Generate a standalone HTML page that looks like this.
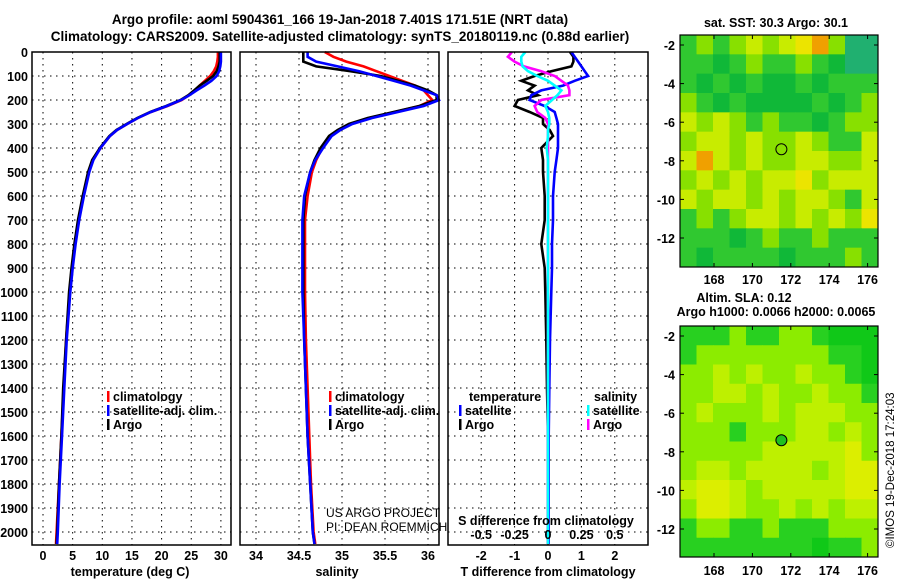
<!DOCTYPE html>
<html><head><meta charset="utf-8"><style>
body{margin:0;background:#fff}
svg{display:block;font-family:"Liberation Sans",sans-serif;font-weight:bold}
</style></head><body>
<svg id="c" width="900" height="580" viewBox="0 0 900 580" xmlns="http://www.w3.org/2000/svg">
<text x="340" y="24" font-size="13.5" text-anchor="middle">Argo profile: aoml 5904361_166 19-Jan-2018 7.401S 171.51E (NRT data)</text>
<text x="340" y="41" font-size="13.5" text-anchor="middle">Climatology: CARS2009. Satellite-adjusted climatology: synTS_20180119.nc (0.88d earlier)</text>
<g id="g"></g>
</svg>
<script>
const depths=[0,20,40,60,80,100,120,140,160,180,200,225,250,275,300,325,350,400,450,500,600,700,800,900,1000,1200,1400,1600,1800,2000,2050];
const tempArgo=[29.8,29.8,29.8,29.6,29.3,28.7,27.6,26.4,25.5,24.5,23.2,20.8,18.1,15.9,14.1,12.4,11.2,9.6,8.3,7.6,6.7,5.9,5.3,4.8,4.4,3.9,3.4,3.1,2.7,2.4,2.3];
const tempClim=[29.5,29.5,29.4,29.2,28.8,28.2,27.3,26.4,25.6,24.6,23.4,21.0,18.2,16.0,14.2,12.5,11.3,9.7,8.4,7.7,6.8,6.0,5.4,4.9,4.5,3.9,3.5,3.1,2.7,2.3,2.2];
const tempSat=[30.0,30.0,30.0,29.9,29.7,29.3,28.4,27.2,25.9,24.7,23.3,20.9,18.2,16.0,14.2,12.5,11.3,9.7,8.5,7.8,6.9,6.1,5.5,5.0,4.6,4.0,3.6,3.2,2.8,2.5,2.4];
const salArgo=[34.55,34.55,34.55,34.7,35.1,35.45,35.65,35.85,36.0,36.1,36.1,35.9,35.6,35.3,35.08,34.95,34.85,34.75,34.68,34.63,34.57,34.55,34.55,34.55,34.55,34.56,34.58,34.6,34.63,34.66,34.68];
const salClim=[34.8,34.9,35.05,35.25,35.4,35.55,35.7,35.85,35.95,36.0,36.05,35.9,35.62,35.32,35.1,34.97,34.87,34.77,34.7,34.65,34.6,34.57,34.57,34.57,34.57,34.58,34.6,34.62,34.64,34.67,34.69];
const salSat=[34.6,34.6,34.7,34.95,35.2,35.4,35.6,35.8,35.95,36.1,36.15,35.95,35.65,35.35,35.12,34.98,34.88,34.78,34.69,34.63,34.56,34.54,34.54,34.54,34.54,34.56,34.58,34.6,34.63,34.66,34.68];
const tDiffArgo=[0.66,0.76,0.76,0.7,0.1,-0.4,-0.8,-0.4,-0.6,-0.3,-0.9,-1.0,-0.55,-0.15,-0.15,0.05,0.15,-0.2,-0.15,-0.15,-0.1,-0.1,-0.2,-0.1,-0.08,-0.05,-0.03,0,0,0,0];
const tDiffSat=[0.7,0.8,0.9,1.0,1.1,1.2,0.8,0.45,-0.2,-0.5,-0.55,-0.1,0.2,0.25,0.3,0.3,0.3,0.3,0.25,0.2,0.15,0.15,0.12,0.12,0.1,0.06,0.04,0.02,0.02,0.02,0.02];
const sDiffArgo=[-0.27,-0.3,-0.25,-0.18,-0.05,0.05,0.1,0.15,0.16,0.16,-0.05,-0.1,-0.08,-0.02,0,0,0,0,0,0,0,0,0,0,0,0,0,0,0,0,0];
const sDiffSat=[-0.17,-0.2,-0.2,-0.19,-0.15,-0.08,0.0,0.05,0.1,0.07,0.03,-0.02,0.0,0.01,0.01,0,0,-0.01,0,0,0,0,0,0,0,0,0,0,0,0,0];
const depthTicks=[0,100,200,300,400,500,600,700,800,900,1000,1100,1200,1300,1400,1500,1600,1700,1800,1900,2000];
const tempTicks=[0,5,10,15,20,25,30];
const salTicks=[34,34.5,35,35.5,36];
const tDiffTicks=[-2,-1,0,1,2];
const sDiffTicks=["-0.5","-0.25","0","0.25","0.5"];
const lonTicks=[168,170,172,174,176];
const latTicks=[-2,-4,-6,-8,-10,-12];
const sstGrid=["glglylyYoltt","ggdglgglgdtt","gdgdgddgdggg","lgdgddddgdgl","ylylglggdgll","lyylyllylggy","yoylyllyylly","lylylyyYlyyy","ylyylylyylgy","glglyylylylY","gggdglgglggg","gdggggdggglg"];
const slaGrid=["ggglggllgddd","gllllllllggd","llylyllyllgd","llyylyllyllg","lylllylyyyll","lllglllyylyl","lllllyyyyyYl","lyylyyyylyYY","yYYylyyyyyYY","lYYyllylylyy","gllgglggglll","ggggggggdggl"];
const sstColors={d:"#10b838",g:"#30c830",l:"#88e000",y:"#c8ec00",Y:"#ece400",o:"#f0a000",t:"#20b070"};
const slaColors={d:"#10c818",g:"#28d020",l:"#8cec00",y:"#bef000",Y:"#dcee00"};

const NS="http://www.w3.org/2000/svg";
const G=document.getElementById('g');
function el(tag,attrs,parent){const e=document.createElementNS(NS,tag);for(const k in attrs)e.setAttribute(k,attrs[k]);(parent||G).appendChild(e);return e;}
const TOP=52,BOT=545;
const yD=d=>TOP+d*0.24;
const xT=t=>43+t*5.93;
const xS=s=>256+(s-34)*86;
const xTd=v=>548+v*33.4;
const xSd=v=>548+v*4*33.4;

function panel(name,x0,x1,xTickVals,xf,labels,xlabel,xlabelX){
  const p=el('g',{});
  
  
  depthTicks.forEach(d=>{const l=el('line',{x1:x0,x2:x1,y1:yD(d),y2:yD(d),stroke:'#000','stroke-dasharray':'1.5,4.5','stroke-width':1},p);});
  xTickVals.forEach(v=>{const l=el('line',{x1:xf(v),x2:xf(v),y1:TOP,y2:BOT,stroke:'#000','stroke-dasharray':'1.5,4.5','stroke-width':1},p);});
  if(labels){xTickVals.forEach((v,i)=>{const t=el('text',{x:xf(v),y:560,'font-size':12.5,'text-anchor':'middle'},p);t.textContent=labels[i];});}
  const xl=el('text',{x:xlabelX,y:576,'font-size':12.5,'text-anchor':'middle'},p);xl.textContent=xlabel;
  
  return p;
}
function line(p,vals,xf,color,name,x0,x1){
  const pts=depths.map((d,i)=>Math.max(x0,Math.min(x1,xf(vals[i]))).toFixed(1)+','+yD(d).toFixed(1)).join(' ');
  const l=el('polyline',{points:pts,fill:'none',stroke:color,'stroke-width':2.6,'stroke-linejoin':'miter'},p);
  
}
function frame(p,x0,x1){const r=el('rect',{x:x0,y:TOP,width:x1-x0,height:BOT-TOP,fill:'none',stroke:'#000','stroke-width':1.5},p);}

const p1=panel('temperature-panel',32,231,tempTicks,xT,tempTicks.map(String),'temperature (deg C)',130);
depthTicks.forEach(d=>{const t=el('text',{x:28,y:yD(d)+5,'font-size':12.5,'text-anchor':'end'},p1);t.textContent=d;});
line(p1,tempClim,xT,'#f00','temp-climatology-line',32,231);
line(p1,tempArgo,xT,'#000','temp-argo-line',32,231);
line(p1,tempSat,xT,'#00f','temp-satellite-line',32,231);
frame(p1,32,231);
const p2=panel('salinity-panel',240,439,salTicks,xS,["34","34.5","35","35.5","36"],'salinity',337);
line(p2,salClim,xS,'#f00','sal-climatology-line',240,439);
line(p2,salArgo,xS,'#000','sal-argo-line',240,439);
line(p2,salSat,xS,'#00f','sal-satellite-line',240,439);
frame(p2,240,439);
const p3=panel('difference-panel',448,648,tDiffTicks,xTd,["-2","-1","0","1","2"],'T difference from climatology',548);
line(p3,tDiffArgo,xTd,'#000','tdiff-argo-line',448,648);
line(p3,tDiffSat,xTd,'#00f','tdiff-satellite-line',448,648);
line(p3,sDiffArgo,xSd,'#f0f','sdiff-argo-line',448,648);
line(p3,sDiffSat,xSd,'#0ff','sdiff-satellite-line',448,648);
frame(p3,448,648);
const st=el('text',{x:546,y:525,'font-size':12.5,'text-anchor':'middle'},p3);st.textContent='S difference from climatology';

sDiffTicks.forEach((s,i)=>{const t=el('text',{x:xSd(parseFloat(s)),y:539,'font-size':12.5,'text-anchor':'middle'},p3);t.textContent=s;});

function legend(p,x,y,items,name){
  const g=el('g',{},p);
  items.forEach((it,i)=>{
    const m=el('rect',{x:x,y:y+i*14-11,width:2.5,height:11,fill:it[1]},g);
    const t=el('text',{x:x+6,y:y+i*14-1,'font-size':12.5},g);t.textContent=it[0];
  });
}
legend(p1,107,402,[['climatology','#f00'],['satellite-adj. clim.','#00f'],['Argo','#000']],'temp-legend');
legend(p2,329,402,[['climatology','#f00'],['satellite-adj. clim.','#00f'],['Argo','#000']],'sal-legend');
const lt=el('text',{x:469,y:401,'font-size':12.5},p3);lt.textContent='temperature';
const ls=el('text',{x:594,y:401,'font-size':12.5},p3);ls.textContent='salinity';
legend(p3,459,416,[['satellite','#00f'],['Argo','#000']],'tdiff-legend');
legend(p3,587,416,[['satellite','#0ff'],['Argo','#f0f']],'sdiff-legend');
const cr1=el('text',{x:326,y:517,'font-size':12,'font-weight':'normal'},p2);cr1.textContent='US ARGO PROJECT';
const cr2=el('text',{x:326,y:531,'font-size':12,'font-weight':'normal'},p2);cr2.textContent='PI: DEAN ROEMMICH';

const MX0=680,MX1=878;
const xLon=l=>714+(l-168)*19.2;
function map(name,y0,y1,grid,colors,yLat,titles,markerFill,labY){
  const g=el('g',{});
  const rows=grid.length,cols=grid[0].length,cw=(MX1-MX0)/cols,ch=(y1-y0)/rows;
  grid.forEach((row,r)=>{for(let c=0;c<cols;c++){const cell=el('rect',{x:MX0+c*cw,y:y0+r*ch,width:cw+0.5,height:ch+0.5,fill:colors[row[c]]},g);}});
  el('rect',{x:MX0,y:y0,width:MX1-MX0,height:y1-y0,fill:'none',stroke:'#000','stroke-width':1.2},g);
  lonTicks.forEach(l=>{el('line',{x1:xLon(l),x2:xLon(l),y1:y1,y2:y1-4,stroke:'#000'},g);el('line',{x1:xLon(l),x2:xLon(l),y1:y0,y2:y0+4,stroke:'#000'},g);const t=el('text',{x:xLon(l),y:labY,'font-size':12.5,'text-anchor':'middle'},g);t.textContent=l;});
  latTicks.forEach(v=>{el('line',{x1:MX0,x2:MX0+4,y1:yLat(v),y2:yLat(v),stroke:'#000'},g);el('line',{x1:MX1,x2:MX1-4,y1:yLat(v),y2:yLat(v),stroke:'#000'},g);const t=el('text',{x:675,y:yLat(v)+5,'font-size':12.5,'text-anchor':'end'},g);t.textContent=v;});
  const mk=el('circle',{cx:xLon(171.51),cy:yLat(-7.401),r:5.5,fill:markerFill,stroke:'#000','stroke-width':1},g);
  titles.forEach((tt,i)=>{const t=el('text',{x:tt[1],y:tt[2],'font-size':12.5,'text-anchor':'middle'},g);t.textContent=tt[0];});
}
map('sst-map',35,267,sstGrid,sstColors,v=>45+(-2-v)*19.3,[['sat. SST: 30.3 Argo: 30.1',776,27]],'none',284);
map('sla-map',326,557,slaGrid,slaColors,v=>336+(-2-v)*19.3,[['Altim. SLA: 0.12',744,302],['Argo h1000: 0.0066 h2000: 0.0065',776,316]],'#20c020',575);
const ts=el('text',{x:0,y:0,'font-size':11.5,'font-weight':'normal',transform:'translate(894,548) rotate(-90)'});ts.textContent='©IMOS 19-Dec-2018 17:24:03';

</script>
</body></html>
